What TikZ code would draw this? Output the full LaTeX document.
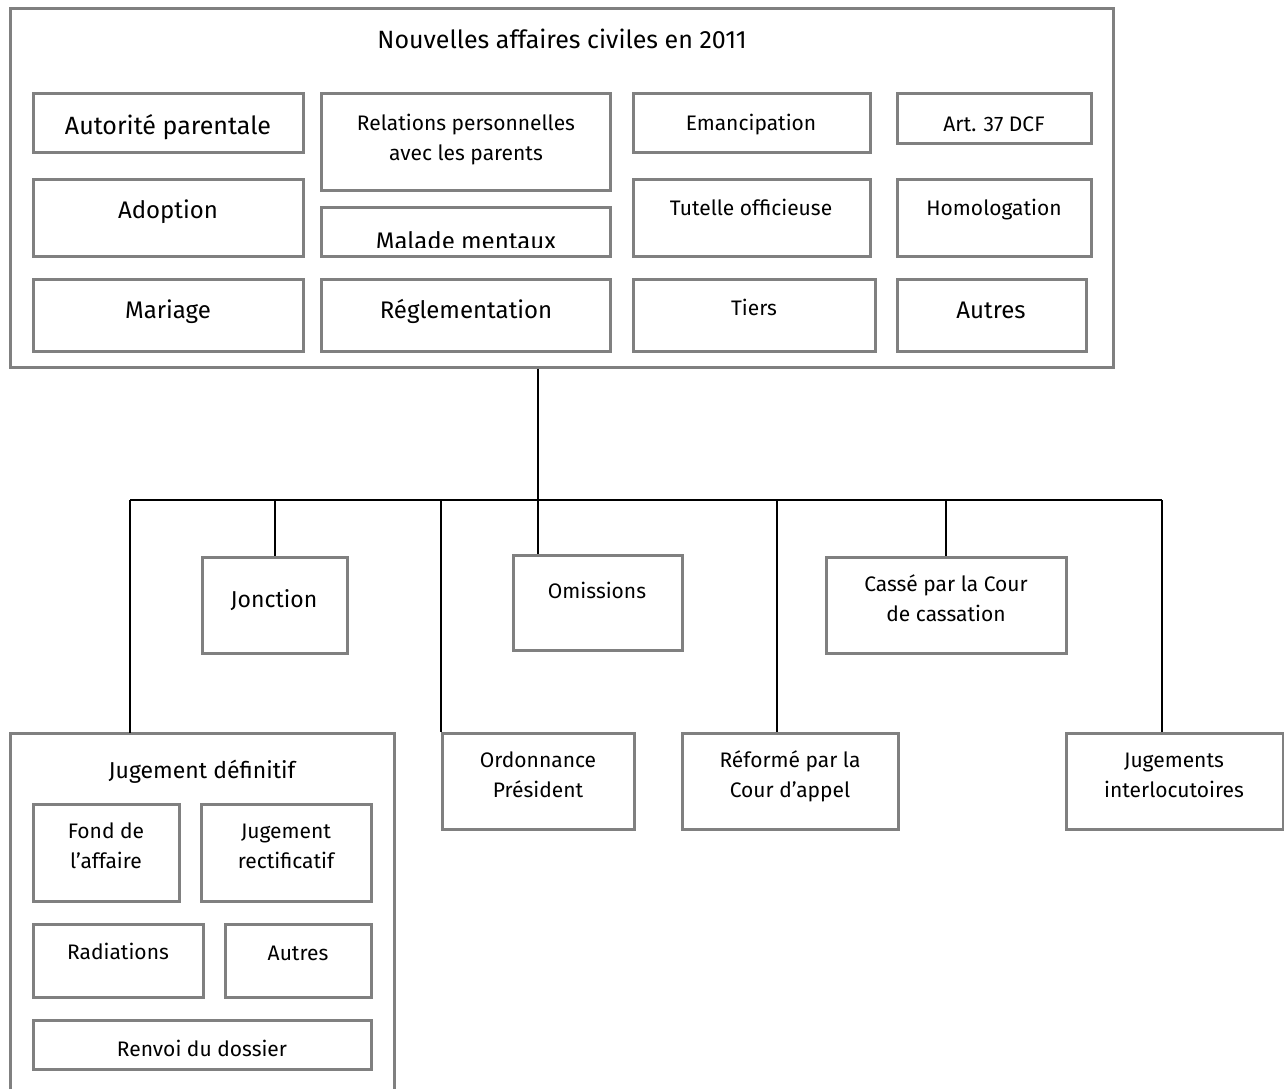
\documentclass[tikz,border=0pt]{standalone}
\usepackage{fontspec}
\setmainfont{Fira Sans}
\usetikzlibrary{fit}

\begin{document}
\begin{tikzpicture}[x=0.5pt,y=-0.5pt]
	\tikzset{boite/.style={draw=gray,line width=1.5pt,inner sep=0pt,fit={#1}}}
	\tikzset{grand/.style={font=\fontsize{12}{15}\selectfont,anchor=base,align=center,inner sep=0pt}}
	\tikzset{petit/.style={font=\fontsize{10.5}{15}\selectfont,anchor=base,align=center,inner sep=0pt}}
	\tikzset{moyen/.style={petit,font=\fontsize{11.5}{15}\selectfont}}
	\tikzset{lien/.style={line width=1pt}}
	\useasboundingbox (0,0) rectangle (1284,1089);

	% affaires civiles
	\node[boite={(10,8) (1113,367)}] (civiles) {};
	\node[petit,font=\fontsize{12.5}{15}\selectfont] (titre) at (562,48) {Nouvelles affaires civiles en 2011};

	\node[boite={(33,93) (303,152)}] (autorite) {};
	\node[grand,font=\fontsize{12.5}{15}\selectfont] (autorite-t) at (168,134) {Autorité parentale};
	\node[boite={(321,93) (610,190)}] (relations) {};
	\node[petit] (relations-t) at (466,160) {Relations personnelles\\avec les parents};
	\node[boite={(633,93) (870,152)}] (emancip) {};
	\node[petit] (emancip-t) at (751,130) {Emancipation};
	\node[boite={(897,93) (1091,143)}] (art) {};
	\node[petit] (art-t) at (994,131) {Art. 37 DCF};

	\node[boite={(33,179) (303,256)}] (adoption) {};
	\node[grand] (adoption-t) at (168,218) {Adoption};
	\begin{scope}
		\clip (321,207) rectangle (610,247);
		\node[grand] (malade-t) at (466,249) {Malade mentaux};
	\end{scope}
	\node[boite={(321,207) (610,256)}] (malade) {};
	\node[boite={(633,179) (870,256)}] (tutelle) {};
	\node[petit] (tutelle-t) at (751,215) {Tutelle officieuse};
	\node[boite={(897,179) (1091,256)}] (homolog) {};
	\node[petit] (homolog-t) at (994,215) {Homologation};

	\node[boite={(33,279) (303,351)}] (mariage) {};
	\node[grand] (mariage-t) at (168,318) {Mariage};
	\node[boite={(321,279) (610,351)}] (reglement) {};
	\node[grand] (reglement-t) at (466,318) {Réglementation};
	\node[boite={(633,279) (875,351)}] (tiers) {};
	\node[petit] (tiers-t) at (754,315) {Tiers};
	\node[boite={(897,279) (1086,351)}] (autres) {};
	\node[grand] (autres-t) at (991,318) {Autres};

	% decisions
	\node[boite={(202,557) (347,653)}] (jonction) {};
	\node[moyen] (jonction-t) at (274,607) {Jonction};
	\node[boite={(513,555) (682,650)}] (omissions) {};
	\node[petit] (omissions-t) at (597,598) {Omissions};
	\node[boite={(826,557) (1066,653)}] (casse) {};
	\node[petit] (casse-t) at (946,621) {Cassé par la Cour\\de cassation};

	\node[boite={(442,733) (634,829)}] (ordonnance) {};
	\node[petit] (ordonnance-t) at (538,797) {Ordonnance\\Président};
	\node[boite={(682,733) (898,829)}] (reforme) {};
	\node[petit] (reforme-t) at (790,797) {Réformé par la\\Cour d’appel};
	\node[boite={(1066,733) (1283,829)}] (interloc) {};
	\node[petit] (interloc-t) at (1174,797) {Jugements\\interlocutoires};

	% jugement definitif
	\coordinate (definitif) at (130,733);
	\draw[draw=gray,line width=1.5pt] (10,1089) |- (394,733) -- (394,1089);
	\node[moyen] (definitif-t) at (202,778) {Jugement définitif};
	\node[boite={(33,804) (179,901)}] (fond) {};
	\node[petit] (fond-t) at (106,868) {Fond de\\l’affaire};
	\node[boite={(201,804) (371,901)}] (rectif) {};
	\node[petit] (rectif-t) at (286,868) {Jugement\\rectificatif};
	\node[boite={(33,924) (203,997)}] (radiations) {};
	\node[petit] (radiations-t) at (118,959) {Radiations};
	\node[boite={(225,924) (371,997)}] (autres2) {};
	\node[petit] (autres2-t) at (298,960) {Autres};
	\node[boite={(33,1020) (371,1069)}] (renvoi) {};
	\node[petit] (renvoi-t) at (202,1056) {Renvoi du dossier};

	% liens
	\coordinate (bus) at (538,500);
	\coordinate (busG) at (130,500);
	\coordinate (busD) at (1162,500);
	\coordinate (busR) at (777,500);
	\draw[lien] (bus |- civiles.south) -- (bus |- omissions.north);
	\draw[lien] (busG) -- (busD);
	\draw[lien] (busG) -- (definitif);
	\draw[lien] (jonction.north |- bus) -- (jonction.north);
	\draw[lien] (ordonnance.north west |- bus) -- (ordonnance.north west);
	\draw[lien] (busR) -- (busR |- reforme.north);
	\draw[lien] (casse.north |- bus) -- (casse.north);
	\draw[lien] (busD) -- (busD |- interloc.north);
\end{tikzpicture}
\end{document}
